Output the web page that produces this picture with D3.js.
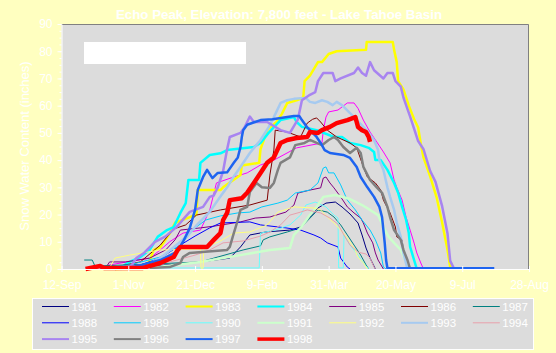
<!DOCTYPE html>
<html lang="en">
<head>
<meta charset="UTF-8" />
<title>Echo Peak – Snow Water Content</title>
<script src="https://d3js.org/d3.v7.min.js"></script>
<style>
  body { margin: 0; background: #ffffc0; }
  svg { display: block; font-family: "Liberation Sans", Arial, sans-serif; }
  .axis path, .axis line { stroke: #fff; }
  .axis text { fill: #fff; font-size: 12px; }
</style>
</head>
<body>
<svg id="chart"></svg>
<script>
// x values are days after 12-Sep, y values are inches of snow water
const tickDays = [0, 50, 100, 150, 200, 250, 300, 350];
const tickLabels = ["12-Sep", "1-Nov", "21-Dec", "9-Feb", "31-Mar", "20-May", "9-Jul", "28-Aug"];
const years = ["1981", "1982", "1983", "1984", "1985", "1986", "1987",
               "1988", "1989", "1990", "1991", "1992", "1993", "1994",
               "1995", "1996", "1997", "1998"];

const y1981 = [[29,0],[66,1],[104,2.6],[126,4],[134,8.1],[141,12.5],[153,13.6],[171,14.3],[179,15.4],[186,19.1],[192,22.4],[198,24.2],[205,24.6],[210,22.8],[216,20.2],[222,16.9],[225,12.5],[228,7.7],[231,4],[235,0]];
const y1982 = [[29,0.4],[36,1.5],[66,4],[74,7],[81,10],[91,13.2],[104,14.3],[111,21.7],[116,31.6],[129,33.8],[139,35.3],[149,38.2],[159,40],[176,44.5],[195,46.3],[196,51],[198,55.8],[200,57.7],[207,58.4],[214,61],[219,61],[222,59],[226,54.7],[231,50.3],[236,46.7],[241,43],[246,39],[249,32.7],[251,30],[255,25.3],[258,19],[261,14.3],[264,9.5],[266,5.9],[269,2.2],[271,0]];
const y1983 = [[40,0],[62,0.5],[66,3],[69,7],[74,8],[81,13],[85,17],[101,20],[102,29],[119,29],[121,30],[134,34.5],[135,38],[148,39],[149,44],[154,51],[161,54],[165,57],[169,61],[176,62],[181,63],[182,69],[186,71],[192,76],[195,76],[200,79],[206,80],[228,80.5],[228.5,83.4],[248,83.4],[249,80.5],[251,76],[252,69],[256,66],[260,60],[264,55],[267,52],[269,46],[271,41],[276,34],[281,26],[285,17],[289,7],[291,0.7],[293,0]];
const y1984 = [[44,0.4],[51,2.6],[59,4.4],[66,7],[72,11.8],[79,14.3],[84,15.4],[89,20.6],[93,24.2],[95,32.7],[103,32.7],[104,39],[111,41.9],[119,42.5],[124,43.7],[144,44.8],[149,46.3],[155,50],[164,54.7],[174,55.8],[176,54],[180,52.2],[191,51],[204,48.5],[210,48.5],[216,46.3],[224,45.5],[230,44.5],[234,43],[235,40],[239,40],[244,36.4],[249,31.6],[252,28],[255,22.8],[258,18],[260,13.2],[261,8.1],[264,3.3],[266,0]];
const y1985 = [[33,0.4],[36,2.6],[48,2.6],[66,4],[78,7],[85,10.7],[89,14.3],[104,15.1],[115,15.8],[134,17.3],[145,18.7],[156,19.1],[168,20.9],[174,23.5],[177,27.9],[186,29],[194,29.8],[196,33.4],[198,33.8],[201,31.6],[204,29.8],[209,26.5],[214,22.8],[219,20.6],[224,18.7],[226,16.9],[229,13.2],[233,9.6],[235,5.9],[237,3.3],[241,0]];
const y1986 = [[36,0.3],[59,2.6],[74,8.8],[84,14.7],[93,16.2],[101,19.8],[119,21.7],[141,23.5],[154,25.3],[156,34.5],[159,43.7],[160,51],[169,50.3],[179,48.5],[184,53.6],[188,55],[191,55.5],[194,54],[199,51],[206,48.5],[216,46.3],[221,44.5],[226,37.5],[229,33.8],[235,31.6],[239,29],[241,25.3],[246,20.6],[250,15.4],[251,11.8],[255,10.7],[256,7],[259,0]];
const y1987 = [[17,3.3],[23,3.3],[25,1.1],[66,1.8],[104,2.6],[114,4],[136,7],[149,8.5],[151,10.7],[156,11.8],[169,13.6],[179,15.1],[192,21.7],[199,20.9],[204,19.1],[209,16.2],[214,12.5],[219,8.8],[224,5.1],[228,1.5],[230,0]];
const y1988 = [[33,0.4],[59,1.5],[74,4],[89,8.8],[100,12.1],[111,15.1],[119,16.9],[141,17.3],[149,16.2],[168,15.1],[179,14.3],[189,12.5],[194,11.4],[199,9.6],[207,8.1],[209,4],[214,0.7],[216,0]];
const y1989 = [[29,0.4],[51,1.5],[74,4.4],[89,8.8],[100,15.1],[108,18],[119,19.5],[132,20.6],[141,20.9],[150,22.8],[162,24.2],[169,25.3],[175,27.9],[179,28.3],[186,29],[192,31.6],[196,37.1],[198,37.5],[200,35.3],[204,35.3],[209,30.9],[214,25.3],[220,21.7],[225,18],[231,14.3],[235,10.7],[239,5.9],[241,0.7],[243,0]];
const y1990 = [[29,0.4],[148,0.4],[149,13.2],[160,14.3],[171,16.2],[179,19.8],[183,23.5],[190,24.6],[198,22.8],[204,19.8],[207,18.7],[207.5,0.4],[211,0.4],[211.5,12.5],[216,8.8],[222,5.1],[226,2.2],[230,0]];
const y1991 = [[66,0.4],[104,2.6],[134,5.1],[156,7],[171,7.7],[174,12.5],[179,15.1],[186,19.8],[192,23.5],[196,26.5],[205,27.2],[216,25.7],[225,23.5],[231,21.7],[237,19.8],[241,15.4],[245,11.8],[249,9.6],[254,7],[258,2.6],[260,0]];
const y1992 = [[36,0.4],[40,4],[51,5.1],[74,7],[104,7.3],[104.5,0.3],[106,0.3],[106.5,8],[118,10],[129,13.2],[141,13.6],[154,16.2],[162,20.9],[174,22.8],[189,22.4],[194,21.7],[199,19.1],[204,16.9],[209,14.3],[214,11.4],[219,7.7],[222,4.4],[226,2.2],[229,0]];
const y1993 = [[44,0],[64,1.5],[74,4],[84,8],[94,12],[101,16],[111,21],[118,26],[124,30],[129,34],[134,37.5],[141,42.6],[149,47.4],[155,52],[159,55.8],[164,61],[169,62],[174,62.5],[183,62.8],[186,61.4],[190,61],[195,62],[199,61.4],[203,60.2],[206,61.4],[210,60.2],[216,57.3],[221,54.7],[226,52.2],[230,50],[234,47.4],[237,43.7],[238,40],[241,36.4],[244,30],[246,26.5],[249,21.7],[251,16.9],[254,11.8],[256,5.9],[259,0]];
const y1994 = [[36,0.4],[59,1.5],[81,2.6],[100,5.1],[111,7],[121,9.6],[136,10.3],[149,12.1],[156,13.6],[164,16.2],[171,19.8],[179,20.9],[184,21.7],[194,20.6],[201,18.7],[207,16.5],[211,12.9],[216,8.8],[222,6.2],[228,5.5],[231,4],[234,0.7],[235,0]];
const y1995 = [[40,0],[52,1],[56,4],[62,6],[70,10],[78,12],[86,15.4],[96,21],[106,22.8],[111,26.5],[114,27],[117,30],[121,36],[124,44],[126,48.5],[134,50],[137,52],[141,56],[144,54],[154,54],[164,51],[171,50],[177,55],[180,62],[186,64],[190,65],[192,69],[196,72],[203,72],[205,69],[209,70],[219,72],[222,74],[225,72],[228,71],[231,76],[234,73],[241,70],[244,72],[248,72],[250,69],[254,67],[256,63],[261,56],[267,47],[271,44],[276,36],[280,32],[285,23],[289,13],[291,3],[294,0]];
const y1996 = [[66,0.4],[81,0.7],[89,2.2],[91,4.4],[96,5.9],[124,7],[126,8.1],[129,13.2],[132,18],[134,21.7],[139,22.8],[141,28.3],[146,31.6],[150,30],[156,29.8],[159,31.6],[162,36.4],[164,39],[171,41],[175,45.5],[182,46.3],[186,47.4],[191,46.3],[195,45.5],[200,47.4],[204,48.5],[207,47.4],[211,44.8],[216,42.6],[221,44.5],[224,42.6],[226,37.5],[231,32.7],[236,30],[240,28],[244,22.8],[246,19],[249,14.3],[254,10.7],[256,7],[259,3.3],[261,0]];
const y1997 = [[29,0.3],[49,0.3],[60,1.5],[74,3.3],[86,6.2],[91,10],[96,15],[100,21.7],[102,29],[106,33.8],[109,36.4],[113,33.4],[117,35.3],[124,35.5],[129,39],[132,41],[134,44.8],[135,48.5],[136,51],[139,53],[149,54.7],[158,55],[174,56.2],[178,56.2],[180,54.7],[184,52],[188,50],[191,48.5],[194,46.3],[197,43.7],[201,42.6],[211,41.9],[216,40.8],[221,37.5],[224,33.8],[229,30],[234,26.5],[238,22.8],[240,19],[241,14.3],[242,9.5],[243,3.3],[244,0.3],[324,0.3]];
const y1998 = [[18,0],[29,1.1],[32,0.4],[61,0.4],[69,1.5],[74,2.2],[84,4.4],[87,7],[89,8.1],[109,8.1],[114,10.7],[119,13.2],[121,18],[124,20.6],[126,25.3],[135,26],[139,28],[144,31.6],[149,35.3],[154,39],[159,41],[164,46.3],[169,47.4],[176,48.1],[184,48.5],[186,50.3],[192,50],[195,51],[201,52.2],[206,53.6],[214,54.7],[220,55.8],[221,54],[222,52.2],[225,51],[228,50.3],[230,48.5],[231,46.7]];

const series = [y1981, y1982, y1983, y1984, y1985, y1986, y1987, y1988, y1989,
                y1990, y1991, y1992, y1993, y1994, y1995, y1996, y1997, y1998];

const colors = ["#000080", "#ff00ff", "#ffff00", "#00ffff", "#800080", "#800000", "#008080",
                "#0000ff", "#00ccff", "#66ffff", "#ccffcc", "#ffff80", "#a6caf0", "#e8a0ac",
                "#a884f0", "#808080", "#1e64f0", "#ff0000"];
const thick = ["1983", "1984", "1991", "1993", "1995", "1996", "1997"];

const width = 556, height = 353;
const svg = d3.select("#chart").attr("width", width).attr("height", height);

const x = d3.scaleLinear().domain([0, 350]).range([61.5, 529]);
const y = d3.scaleLinear().domain([0, 90]).range([269, 24]);

// plot area
svg.append("rect")
  .attr("x", x(0)).attr("y", y(90))
  .attr("width", x(350) - x(0)).attr("height", y(0) - y(90))
  .attr("fill", "#dcdcdc");
svg.append("path")
  .attr("d", `M${x(0)},${y(90) + 0.5}H${x(350) - 0.5}V${y(0)}`)
  .attr("fill", "none").attr("stroke", "#808080");

// blank white box in the upper left
svg.append("rect")
  .attr("x", 84).attr("y", 42).attr("width", 162).attr("height", 22)
  .attr("fill", "#fff");

const line = d3.line().x(d => x(d[0])).y(d => y(d[1]));

svg.append("g").selectAll("path")
  .data(series)
  .enter().append("path")
  .attr("d", line)
  .attr("fill", "none")
  .attr("stroke", (d, i) => colors[i])
  .attr("stroke-linejoin", "round")
  .attr("stroke-width", (d, i) => years[i] === "1998" ? 4.5 : thick.includes(years[i]) ? 2.5 : 1);

// axes
const yMinor = svg.append("g").attr("class", "axis")
  .attr("transform", `translate(${x(0)},0)`)
  .call(d3.axisLeft(y).tickValues(d3.range(0, 90.1, 2.5)).tickSize(2).tickFormat(""));
yMinor.select(".domain").remove();

svg.append("g").attr("class", "axis")
  .attr("transform", `translate(${x(0)},0)`)
  .call(d3.axisLeft(y).tickValues(d3.range(0, 91, 10)).tickSize(4).tickPadding(5).tickSizeOuter(0));

const xAxis = svg.append("g").attr("class", "axis")
  .attr("transform", `translate(0,${y(0)})`)
  .call(d3.axisBottom(x).tickValues(tickDays).tickFormat((d, i) => tickLabels[i]).tickSizeOuter(0));
xAxis.selectAll(".tick line").attr("y1", -3).attr("y2", 3);
xAxis.selectAll(".tick text").attr("y", 20).attr("dy", 0);

// titles
svg.append("text")
  .attr("x", 279).attr("y", 18.5)
  .attr("text-anchor", "middle")
  .attr("fill", "#fff").attr("font-weight", "bold").attr("font-size", 13)
  .attr("textLength", 326).attr("lengthAdjust", "spacingAndGlyphs")
  .text("Echo Peak, Elevation: 7,800 feet - Lake Tahoe Basin");

svg.append("text")
  .attr("transform", "translate(29,146) rotate(-90)")
  .attr("text-anchor", "middle")
  .attr("fill", "#fff").attr("font-size", 13)
  .text("Snow Water Content (inches)");

// legend
const legend = svg.append("g");
legend.append("rect")
  .attr("x", 32.5).attr("y", 298.5).attr("width", 501).attr("height", 51)
  .attr("fill", "#dcdcdc").attr("stroke", "#fff");

const item = legend.selectAll("g.item")
  .data(years)
  .enter().append("g")
  .attr("class", "item")
  .attr("transform", (d, i) => `translate(${42 + (i % 7) * 71.8},${306.5 + Math.floor(i / 7) * 16.3})`);

item.append("line")
  .attr("x1", 0).attr("x2", 27)
  .attr("stroke", (d, i) => colors[i])
  .attr("stroke-width", d => d === "1998" ? 3.5 : thick.includes(d) ? 2 : 1);

item.append("text")
  .attr("x", 29.5).attr("y", 4)
  .attr("fill", "#fff").attr("font-size", 11.5)
  .text(d => d);
</script>
</body>
</html>
